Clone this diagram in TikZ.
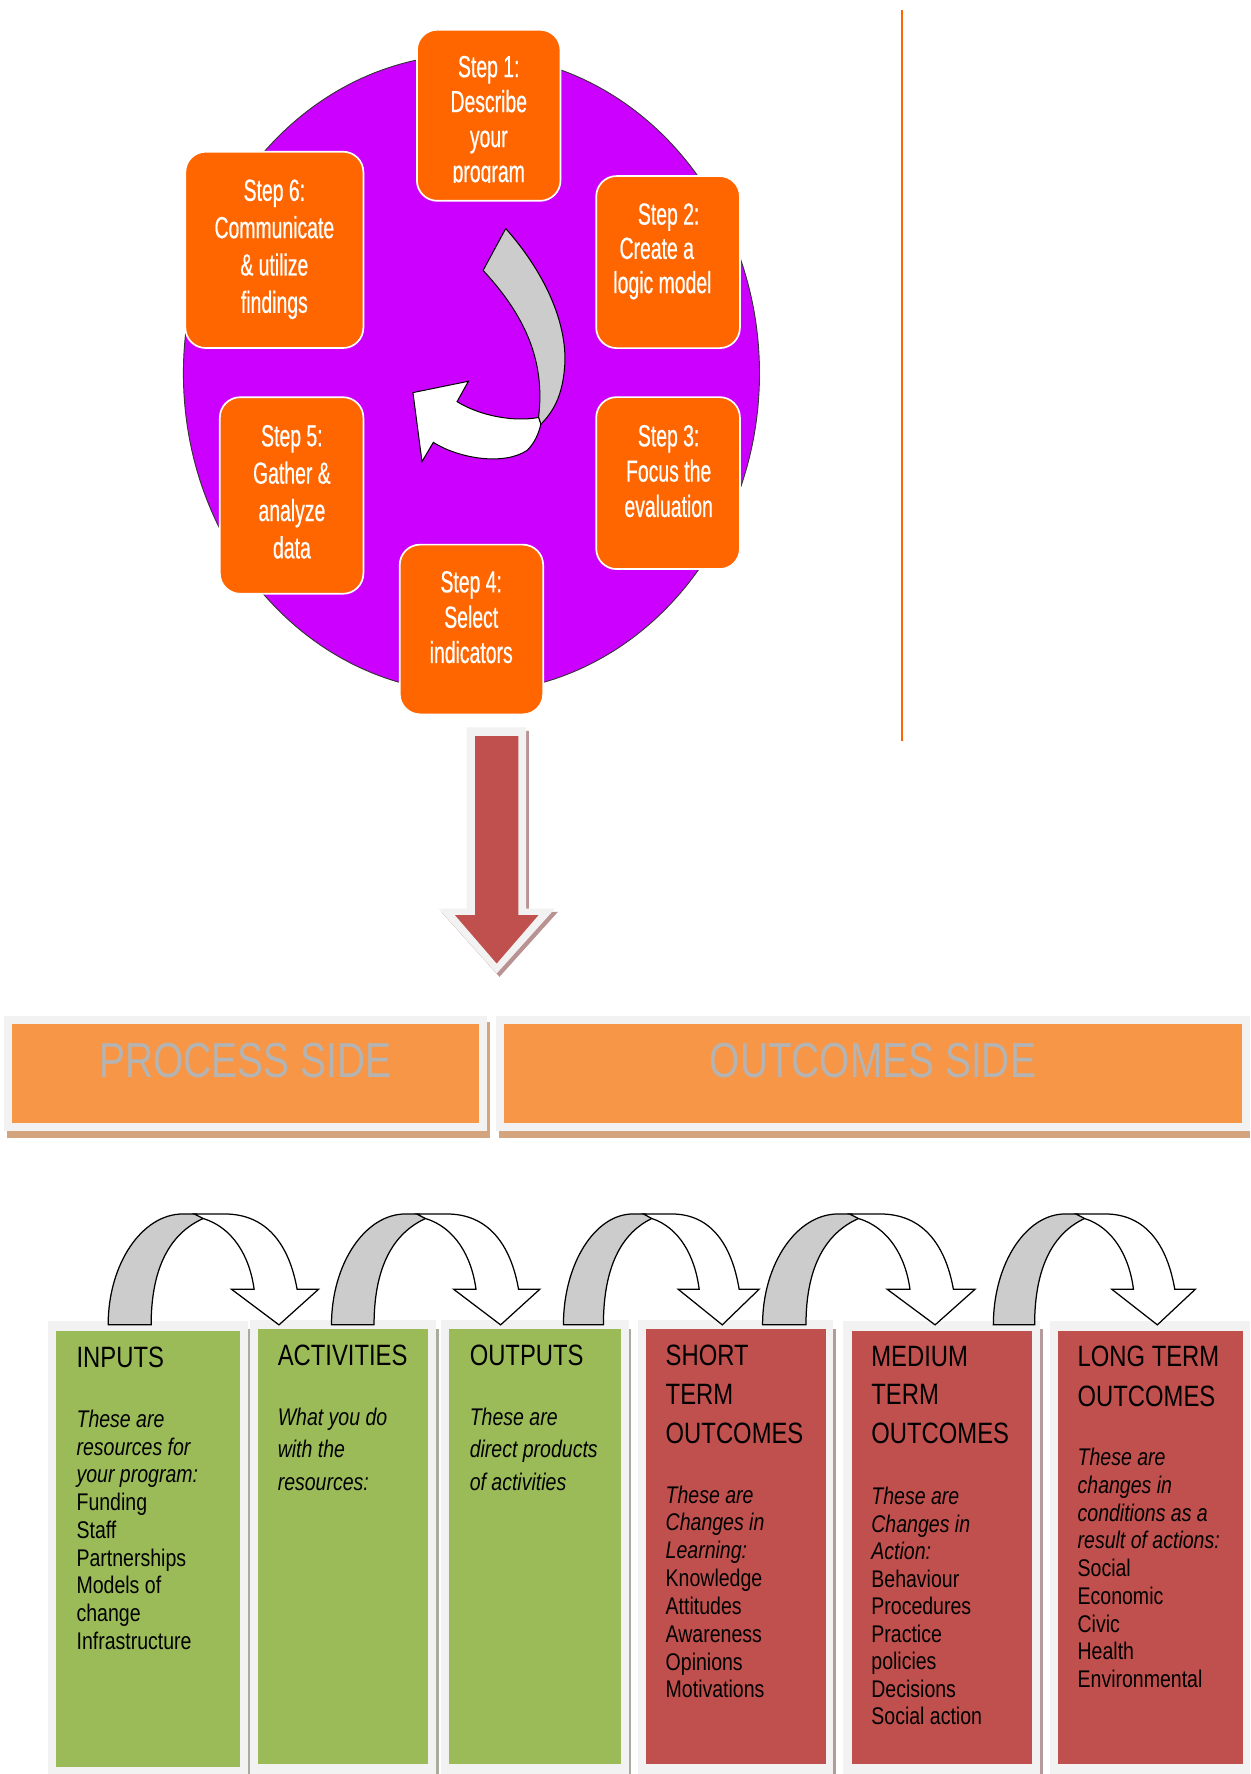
\documentclass[tikz,border=0pt]{standalone}
\usepackage{fontspec}
\setmainfont{Liberation Sans}
\newfontfamily\stepfont[FakeStretch=0.635,FakeBold=0.5]{Liberation Sans}
\newfontfamily\bodyfont[FakeStretch=0.81]{Liberation Sans}
\newfontfamily\banfont[FakeStretch=0.79]{Liberation Sans}
\usetikzlibrary{shapes.geometric}
\definecolor{circ}{HTML}{CC00FF}
\definecolor{steporange}{HTML}{FF6600}
\definecolor{banorange}{HTML}{F79646}
\definecolor{framegray}{HTML}{F2F2F2}
\definecolor{bantan}{HTML}{D3A47E}
\definecolor{colgreen}{HTML}{9BBB59}
\definecolor{colred}{HTML}{C0504D}
\definecolor{bantextc}{HTML}{B4B4B4}
\definecolor{arrgray}{HTML}{CCCCCC}
\definecolor{redshadow}{HTML}{B99292}
\definecolor{shadowg}{HTML}{A8AC9E}
\definecolor{shadowr}{HTML}{B49A9A}
\newcommand{\mystack}[2]{\vtop{\baselineskip=#1pt\lineskiplimit=-100pt\lineskip=0pt\relax #2}}
\newcommand{\myC}[1]{\hbox to 0pt{\hss#1\hss}}
\newcommand{\myL}[1]{\hbox{#1}}
\newcommand{\uarrow}[2]{%
\begin{scope}[shift={(#1,0)}, xscale=#2]
\draw[uarr, fill=arrgray] (0,1171) .. controls (0,1117) and (30,1073) .. (66,1073) -- (78,1073) -- (84,1077) .. controls (55,1090) and (38,1120) .. (38,1171) -- cycle;
\draw[uarr, fill=white] (76,1073) -- (103,1073) .. controls (140,1073) and (160,1100) .. (167,1139.5) -- (186,1139.5) -- (151,1171) -- (109,1139.5) -- (129,1139.5) .. controls (125,1110) and (110,1085) .. (84,1077) -- cycle;
\end{scope}}
\begin{document}
\begin{tikzpicture}[x=1pt,y=-1pt,
  stepbox/.style={draw=white, line width=1.5pt, fill=steporange, rounded corners=18pt, inner sep=0pt, rectangle},
  steptext/.style={inner sep=0pt, anchor=base, text=white, font=\stepfont\fontsize{27pt}{31pt}\selectfont},
  colhead/.style={inner sep=0pt, anchor=base west, text=black, font=\bodyfont\fontsize{26pt}{30pt}\selectfont},
  colbody/.style={inner sep=0pt, anchor=base west, text=black, font=\bodyfont\fontsize{21.3pt}{25pt}\selectfont},
  bantext/.style={inner sep=0pt, anchor=base, text=bantextc, font=\banfont\fontsize{43.5pt}{50pt}\selectfont},
  uarr/.style={draw=black, line width=1.1pt, line join=miter}]
\useasboundingbox (0,0) rectangle (1105,1568);
\fill[white] (0,0) rectangle (1105,1568);

% ---------- wheel ----------
\node[draw=black!80, line width=0.8pt, fill=circ, ellipse, minimum width=509.2pt, minimum height=564pt, inner sep=0pt] (wheel) at (416.7,330) {};

% centre curved arrow
\draw[line width=0.9pt, fill=arrgray, line join=round] (447,202) .. controls (485,245) and (502,290) .. (499,325) .. controls (497,350) and (489,364) .. (478,375) -- (476,369) .. controls (482,320) and (465,280) .. (427,239) -- cycle;
\draw[line width=0.9pt, fill=white, line join=miter] (476,369) .. controls (455,373) and (425,368) .. (404,355) -- (414,337) -- (365,347) -- (373,408) -- (383,391) .. controls (405,405) and (445,412) .. (466,398) .. controls (472,392) and (476,384) .. (478,375) -- cycle;

% step boxes
\node[stepbox, minimum width=126.9pt, minimum height=151.2pt] (s1) at (431.95,101.9) {};
\node[stepbox, minimum width=127pt, minimum height=152.1pt] (s2) at (590.5,231.65) {};
\node[stepbox, minimum width=127pt, minimum height=152pt] (s3) at (590.5,427) {};
\node[stepbox, minimum width=126.8pt, minimum height=150pt] (s4) at (416.7,556.4) {};
\node[stepbox, minimum width=126.9pt, minimum height=173.7pt] (s5) at (257.75,437.95) {};
\node[stepbox, minimum width=157.4pt, minimum height=173.5pt] (s6) at (242.5,220.85) {};

\begin{scope}
\clip (368.5,26.3) rectangle (495.4,161);
\node[steptext] (t1) at (432,68.2) {\mystack{30.9}{\myC{Step 1:}\myC{Describe}\myC{your}\myC{program}}};
\end{scope}
\node[steptext] (t2) at (591,198.5) {\mystack{30.3}{\myC{Step 2:}\myC{Create a\kern21pt}\myC{logic model\kern11pt}}};
\node[steptext] (t3) at (591,394.5) {\mystack{31.2}{\myC{Step 3:}\myC{Focus the}\myC{evaluation}}};
\node[steptext] (t4) at (416.5,523.6) {\mystack{31.2}{\myC{Step 4:}\myC{Select}\myC{indicators}}};
\node[steptext] (t5) at (258,394.5) {\mystack{33}{\myC{Step 5:}\myC{Gather \&}\myC{analyze}\myC{data}}};
\node[steptext] (t6) at (242.5,177.5) {\mystack{33}{\myC{Step 6:}\myC{Communicate}\myC{\& utilize}\myC{findings}}};

% vertical line
\coordinate (vtop) at (797.4,9);
\coordinate (vbot) at (797.4,655);
\draw[steporange, line width=1.8pt] (vtop) -- (vbot);

% ---------- big down arrow ----------
\begin{scope}[shift={(2.5,3)}]
\fill[redshadow] (412.5,643) -- (465,643) -- (465,803) -- (490.6,803) -- (439,860.4) -- (387.5,803) -- (412.5,803) -- cycle;
\end{scope}
\fill[framegray] (412.5,643) -- (465,643) -- (465,803) -- (490.6,803) -- (439,860.4) -- (387.5,803) -- (412.5,803) -- cycle;
\fill[colred] (420,650.6) -- (458.2,650.6) -- (458.2,808.9) -- (475.9,808.9) -- (439,851.6) -- (402.2,808.9) -- (420,808.9) -- cycle;

% ---------- banners ----------
\fill[bantan] (6.4,903) rectangle (432.7,1005.4);
\fill[framegray] (3.5,898) rectangle (430.5,1000);
\fill[banorange] (10.6,905) rectangle (423.5,993);
\node[bantext] (proc) at (217,952) {PROCESS SIDE};

\fill[bantan] (441,903) rectangle (1105,1005.4);
\fill[framegray] (438.3,898) rectangle (1105,1000);
\fill[banorange] (445.3,905) rectangle (1098,993);
\node[bantext] (outc) at (771.5,952) {OUTCOMES SIDE};

% ---------- columns ----------
% shadows
\fill[shadowg] (219,1175) rectangle (221,1568);
\fill[shadowg] (385.4,1175) rectangle (387.6,1568);
\fill[shadowg] (555.7,1175) rectangle (557.9,1568);
\fill[shadowr] (736.4,1175) rectangle (738.6,1568);
\fill[shadowr] (919.4,1175) rectangle (921.6,1568);
% frames
\fill[framegray] (42.6,1168) rectangle (219,1568);
\fill[framegray] (221,1167) rectangle (385.4,1568);
\fill[framegray] (389.7,1167) rectangle (555.7,1568);
\fill[framegray] (564,1167) rectangle (736.4,1568);
\fill[framegray] (745.3,1168) rectangle (919.4,1568);
\fill[framegray] (928,1168) rectangle (1105,1568);
% fills
\fill[colgreen] (49.5,1176) rectangle (212,1561.6);
\fill[colgreen] (228,1174.4) rectangle (378,1559);
\fill[colgreen] (397,1174.4) rectangle (549,1559);
\fill[colred] (571,1174.4) rectangle (730,1559);
\fill[colred] (753,1176) rectangle (912,1559);
\fill[colred] (935.3,1176) rectangle (1098.6,1559);

% texts
\node[colhead] (inh) at (67.5,1208.5) {INPUTS};
\node[colbody] (inb) at (67.5,1261.5) {\mystack{24.56}{\myL{\itshape These are}\myL{\itshape resources for}\myL{\itshape your program:}\myL{Funding}\myL{Staff}\myL{Partnerships}\myL{Models of}\myL{change}\myL{Infrastructure}}};

\node[colhead] (ach) at (245.3,1206.7) {ACTIVITIES};
\node[colbody] (acb) at (245.3,1260) {\mystack{28.5}{\myL{\itshape What you do}\myL{\itshape with the}\myL{\itshape resources:}}};

\node[colhead] (ouh) at (415,1206.7) {OUTPUTS};
\node[colbody] (oub) at (415,1260) {\mystack{28.5}{\myL{\itshape These are}\myL{\itshape direct products}\myL{\itshape of activities}}};

\node[colhead] (sth) at (588.2,1206.7) {\mystack{34.6}{\myL{SHORT}\myL{TERM}\myL{OUTCOMES}}};
\node[colbody] (stb) at (588.2,1328.6) {\mystack{24.6}{\myL{\itshape These are}\myL{\itshape Changes in}\myL{\itshape Learning:}\myL{Knowledge}\myL{Attitudes}\myL{Awareness}\myL{Opinions}\myL{Motivations}}};

\node[colhead] (meh) at (770,1207.4) {\mystack{34.3}{\myL{MEDIUM}\myL{TERM}\myL{OUTCOMES}}};
\node[colbody] (meb) at (770,1330.2) {\mystack{24.3}{\myL{\itshape These are}\myL{\itshape Changes in}\myL{\itshape Action:}\myL{Behaviour}\myL{Procedures}\myL{Practice}\myL{policies}\myL{Decisions}\myL{Social action}}};

\node[colhead] (loh) at (952.3,1207.4) {\mystack{35.6}{\myL{LONG TERM}\myL{OUTCOMES}}};
\node[colbody] (lob) at (952.3,1295.6) {\mystack{24.5}{\myL{\itshape These are}\myL{\itshape changes in}\myL{\itshape conditions as a}\myL{\itshape result of actions:}\myL{Social}\myL{Economic}\myL{Civic}\myL{Health}\myL{Environmental}}};

% ---------- U-turn arrows ----------
\uarrow{95.6}{1}
\uarrow{293}{0.99}
\uarrow{498}{0.93}
\uarrow{674}{1.01}
\uarrow{878}{0.96}
\end{tikzpicture}
\end{document}
